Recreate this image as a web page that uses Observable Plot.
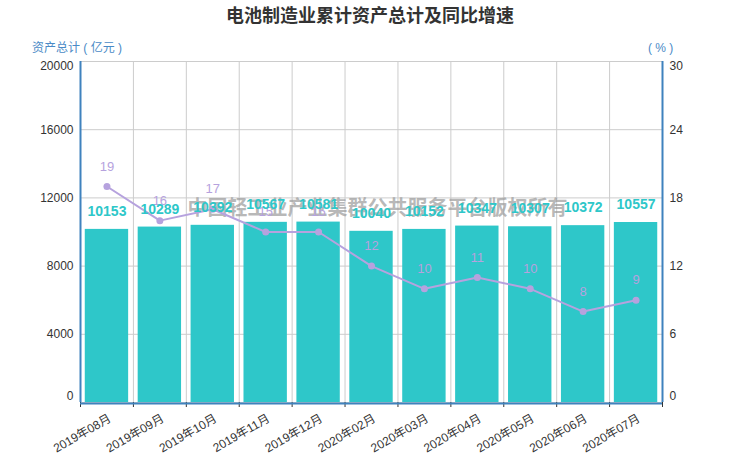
<!DOCTYPE html>
<html><head><meta charset="utf-8">
<script src="https://cdn.jsdelivr.net/npm/d3@7"></script>
<script src="https://cdn.jsdelivr.net/npm/@observablehq/plot@0.6"></script>
<style>
body{margin:0;background:#fff;}
#wrap{position:relative;width:740px;height:462px;font-family:"Liberation Sans",Arial,"Noto Sans CJK SC",sans-serif;}
.title{position:absolute;left:0;width:740px;top:2px;line-height:24px;text-align:center;font-size:18px;font-weight:bold;color:#333;font-family:"Noto Sans CJK SC",sans-serif;}
.yl{position:absolute;top:40px;line-height:16px;font-size:12px;color:#4a8ac6;font-family:"Liberation Sans","Noto Sans CJK SC",sans-serif;white-space:pre;}
#chart{position:absolute;left:0;top:0;}
</style></head>
<body>
<div id="wrap">
  <div id="chart"></div>
  <div class="title">电池制造业累计资产总计及同比增速</div>
  <div class="yl" style="left:32px">资产总计 ( 亿元 )</div>
  <div class="yl" style="left:648px">( % )</div>
</div>
<script>
const months = ["2019年08月","2019年09月","2019年10月","2019年11月","2019年12月","2020年02月","2020年03月","2020年04月","2020年05月","2020年06月","2020年07月"];
const assets = [10153,10289,10392,10567,10581,10040,10152,10347,10307,10372,10557];
const growth = [19,16,17,15,15,12,10,11,10,8,9];
const leftTicks = [0,4000,8000,12000,16000,20000];
const rightTicks = [0,6,12,18,24,30];
const watermark = "中国轻工业产业集群公共服务平台版权所有";

const rows = months.map((m,i)=>({month:m, assets:assets[i], growth:growth[i]}));
const W=740,H=462,mL=80,mR=78,mT=61,mB=60;
const step=(W-mL-mR)/months.length;
const k = 20000/30; // maps % onto left scale
const axisBlue = "#3f82be";
const teal = "#2ec7c9", purple = "#b6a2de";
const font = '"Liberation Sans",Arial,"Noto Sans CJK SC",sans-serif';
const nL = leftTicks.length;
const rightPos = rightTicks.map(d=>d*k);

function yAxes(anchor, ticks, fmt) {
  const o = {tickSize:0, tickPadding:7, label:null, anchor, tickFormat:fmt, fill:"#333"};
  return [
    Plot.axisY({...o, ticks:ticks.slice(1, -1)}),
    Plot.axisY({...o, ticks:ticks.slice(0, 1), dy:-6}),
    Plot.axisY({...o, ticks:ticks.slice(-1), dy:5})
  ];
}

const chart = Plot.plot({
  width:W, height:H, marginLeft:mL, marginRight:mR, marginTop:mT, marginBottom:mB,
  style:{fontSize:"12px", color:"#333", fontFamily:font, background:"transparent"},
  x:{domain:months, paddingInner:0.18, paddingOuter:0.09, round:false, label:null},
  y:{domain:[0,20000], label:null},
  marks:[
    Plot.gridY({ticks:leftTicks, stroke:"#ccc", strokeOpacity:1}),
    Plot.ruleX(months.slice(1), {dx:-step/2, stroke:"#ccc"}),
    Plot.barY(rows, {x:"month", y:"assets", fill:teal}),
    ...yAxes("left", leftTicks, d=>String(d)),
    ...yAxes("right", rightPos, d=>String(Math.round(d/k))),
    Plot.axisX({tickSize:0, tickRotate:-30, label:null, tickPadding:15, dx:3, fill:"#333"}),
    Plot.axisX({tickSize:5, tickFormat:()=>"", label:null, dx:-step/2, stroke:"#333"}),
    Plot.axisX({ticks:[months[months.length-1]], tickSize:5, tickFormat:()=>"", label:null, dx:step/2, stroke:"#333"}),
    Plot.ruleY([0], {stroke:axisBlue, strokeWidth:2, dy:1}),
    Plot.ruleX([months[0]], {dx:-step/2, stroke:axisBlue, strokeWidth:2}),
    Plot.ruleX([months[months.length-1]], {dx:step/2, stroke:axisBlue, strokeWidth:2}),
    Plot.text([watermark], {frameAnchor:"middle", dx:6, dy:-23, fontSize:20, fontWeight:"bold", fill:"#999", fillOpacity:0.7, fontFamily:'"Noto Sans CJK SC",sans-serif'}),
    Plot.line(rows, {x:"month", y:d=>d.growth*k, stroke:purple, strokeWidth:2}),
    Plot.dot(rows, {x:"month", y:d=>d.growth*k, r:3.5, fill:purple, stroke:null}),
    Plot.text(rows, {x:"month", y:d=>d.growth*k, text:d=>String(d.growth), dy:-20, fill:purple, fontSize:13}),
    Plot.text(rows, {x:"month", y:"assets", text:d=>String(d.assets), dy:-18, fill:teal, fontSize:14, fontWeight:"bold"})
  ]
});
document.getElementById("chart").appendChild(chart);
</script>
</body></html>
